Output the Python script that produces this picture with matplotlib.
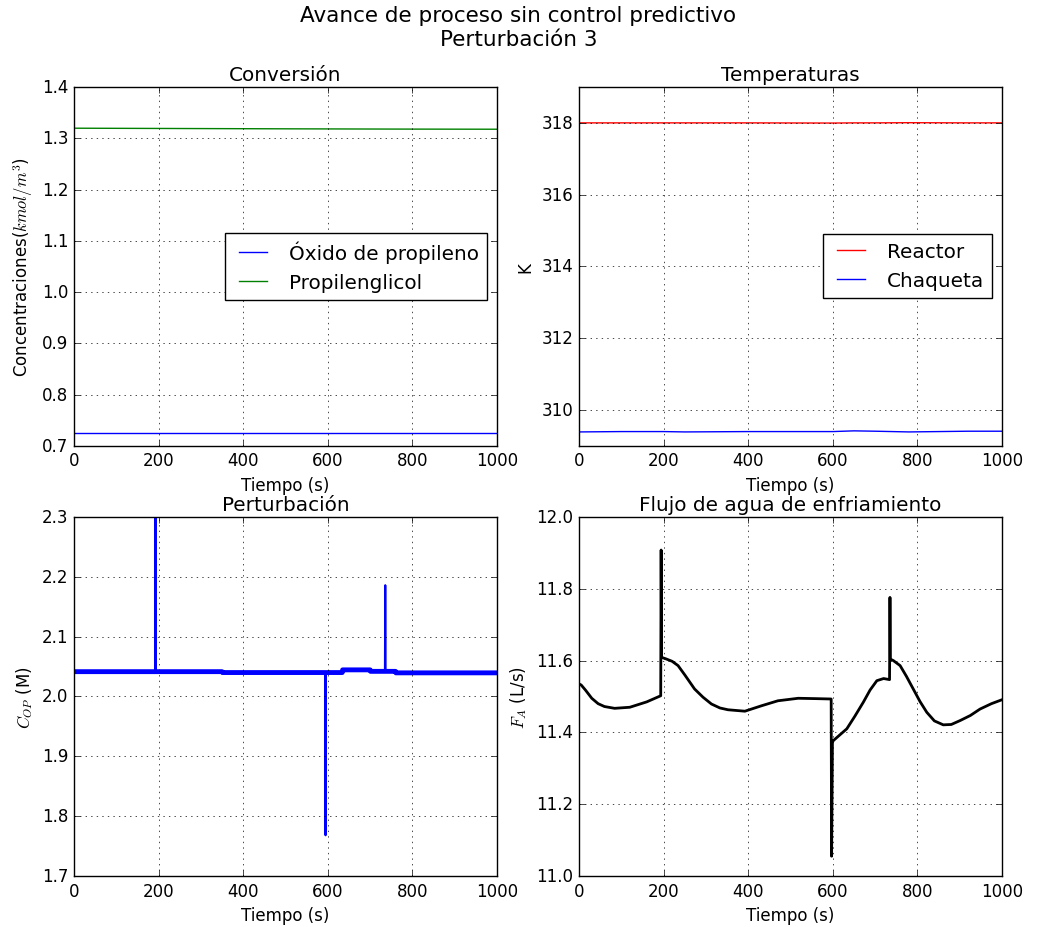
import numpy as np
import matplotlib
matplotlib.use("Agg")
import matplotlib.pyplot as plt

plt.style.use("classic")

# Conversión
t_conv = [0, 250, 500, 750, 1000]
c_oxido = [0.7254, 0.7254, 0.7254, 0.7254, 0.7254]
c_glicol = [1.3196, 1.3190, 1.3184, 1.3179, 1.3176]

# Temperaturas
t_temp = [0, 100, 200, 250, 400, 600, 650, 700, 780, 920, 1000]
T_reactor = [318.0, 318.0, 318.0, 318.0, 318.0, 317.995, 318.0, 318.0, 318.005, 318.0, 318.0]
T_chaqueta = [309.39, 309.40, 309.40, 309.39, 309.40, 309.40, 309.42, 309.41, 309.39, 309.41, 309.41]

# Perturbación
t_pert = [0, 192, 192.6, 193.2, 350, 351, 594, 594.6, 595.2, 634, 635, 700, 701,
          735, 735.8, 736.6, 760, 761, 1000]
c_op = [2.0415, 2.0415, 2.30, 2.0415, 2.0415, 2.040, 2.040, 1.768, 2.040, 2.040, 2.0445,
        2.0445, 2.042, 2.042, 2.186, 2.042, 2.042, 2.0395, 2.0395]

# Flujo de agua de enfriamiento
t_flujo = [0, 5, 15, 30, 45, 60, 84, 120, 160, 193, 194, 195, 205, 220, 234, 250,
           273, 293, 313, 333, 352, 392, 431, 470, 518, 560, 596, 597, 599, 601,
           633, 652, 672, 688, 704, 720, 734, 735, 736, 743, 759, 774, 790, 806,
           822, 840, 861, 880, 901, 925, 948, 975, 1000]
F_A = [11.535, 11.532, 11.518, 11.495, 11.480, 11.472, 11.467, 11.470, 11.485, 11.502,
       11.908, 11.609, 11.605, 11.598, 11.586, 11.560, 11.521, 11.498, 11.479, 11.468,
       11.463, 11.459, 11.474, 11.488, 11.495, 11.494, 11.493, 11.055, 11.372, 11.377,
       11.410, 11.445, 11.484, 11.518, 11.544, 11.550, 11.547, 11.776, 11.604, 11.600,
       11.586, 11.556, 11.521, 11.486, 11.456, 11.432, 11.421, 11.422, 11.433, 11.447,
       11.465, 11.480, 11.491]

fig, axs = plt.subplots(2, 2, figsize=(10.37, 9.28), dpi=100)
fig.subplots_adjust(left=0.0714, right=0.9663, top=0.9052, bottom=0.055,
                    wspace=0.194, hspace=0.198)
fig.suptitle("Avance de proceso sin control predictivo\nPerturbación 3",
             fontsize=15.5, y=0.993, va="top")

ax = axs[0, 0]
ax.plot(t_conv, c_oxido, "b", label="Óxido de propileno")
ax.plot(t_conv, c_glicol, "g", label="Propilenglicol")
ax.set_ylim(0.7, 1.4)
ax.set_title("Conversión")
ax.set_xlabel("Tiempo (s)")
ax.set_ylabel("Concentraciones($kmol/m^3$)")
ax.legend(loc="center right")
ax.grid(True)

ax = axs[0, 1]
ax.plot(t_temp, T_reactor, "r", label="Reactor")
ax.plot(t_temp, T_chaqueta, "b", label="Chaqueta")
ax.set_ylim(309, 319)
ax.set_yticks([310, 312, 314, 316, 318])
ax.ticklabel_format(axis="y", useOffset=False)
ax.set_title("Temperaturas")
ax.set_xlabel("Tiempo (s)")
ax.set_ylabel("K")
ax.legend(loc="center right")
ax.grid(True)

ax = axs[1, 0]
t_arr = np.array(t_pert)
c_arr = np.array(c_op)
base = np.abs(c_arr - 2.041) < 0.01
ax.plot(t_arr, c_arr, "b", linewidth=1.5)
ax.plot(t_arr[base], c_arr[base], "b", linewidth=3.5)
ax.set_ylim(1.7, 2.3)
ax.set_title("Perturbación")
ax.set_xlabel("Tiempo (s)")
ax.set_ylabel("$C_{OP}$ (M)")
ax.grid(True)

ax = axs[1, 1]
ax.plot(t_flujo, F_A, "k", linewidth=2.0)
ax.set_ylim(11.0, 12.0)
ax.set_title("Flujo de agua de enfriamiento")
ax.set_xlabel("Tiempo (s)")
ax.set_ylabel("$F_A$ (L/s)")
ax.grid(True)

for ax in axs.flat:
    ax.set_xlim(0, 1000)

fig.savefig("out.png", dpi=100, facecolor="white")
